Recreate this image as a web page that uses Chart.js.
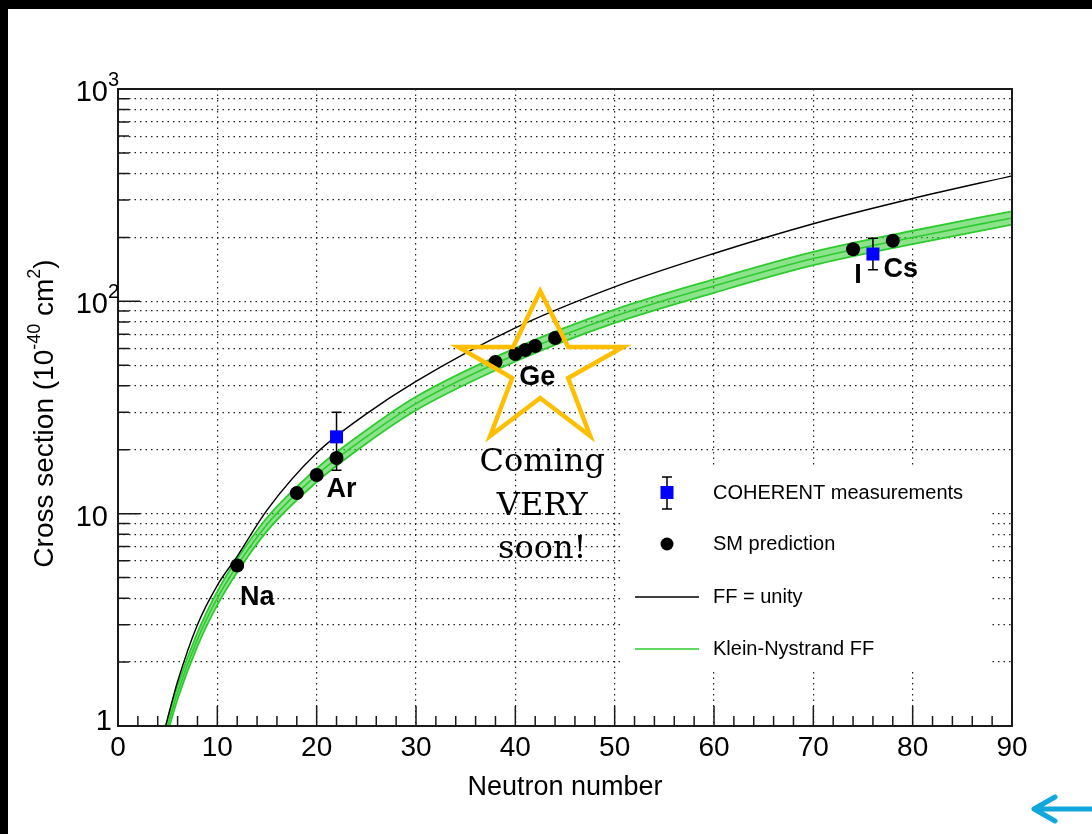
<!DOCTYPE html>
<html>
<head>
<meta charset="utf-8">
<title>Cross section vs neutron number</title>
<script src="https://cdn.jsdelivr.net/npm/chart.js@4.4.1/dist/chart.umd.min.js"></script>
<style>
  html, body { margin: 0; padding: 0; background: #000; }
  #wrap { position: absolute; left: 8px; top: 9px; width: 1084px; height: 825px; background: #fff; }
</style>
</head>
<body>
<div id="wrap"><canvas id="myChart" width="1084" height="825"></canvas></div>
<script>
// curves
const curveN = [4.5, 5, 6, 8, 10, 12, 15, 20, 25, 30, 40, 50, 60, 70, 80, 90];
const ffUnity = [0.88, 1.09, 1.62, 3.0, 4.6, 6.3, 10.4, 19.3, 29.5, 42, 75, 117, 168, 232, 305, 390];
const kleinNystrand = [0.82, 1.0, 1.44, 2.56, 4.0, 5.7, 8.9, 15.2, 23.0, 33, 56, 85, 118, 159, 200, 247];
const knUpper = [0.88, 1.075, 1.55, 2.75, 4.3, 6.13, 9.57, 16.3, 24.7, 35.5, 60.2, 91.4, 126.9, 170.9, 215, 265.5];
const knLower = [0.76, 0.93, 1.34, 2.38, 3.72, 5.3, 8.28, 14.1, 21.4, 30.7, 52.1, 79.1, 109.7, 147.9, 186, 229.7];

// SM prediction points
const smN = [12, 18, 20, 22, 38, 40, 41, 42, 44, 74, 78];
const smXsec = [5.7, 12.5, 15.2, 18.3, 51.8, 56.5, 59.0, 61.6, 67.2, 176, 193];

// COHERENT measurements
const cohN = [22, 76];
const cohXsec = [23, 167];
const cohErrLow = [16, 141];
const cohErrHigh = [30, 198];

// target nuclei labels
const targetNames = ['Na', 'Ar', 'Ge', 'I', 'Cs'];
const targetN = [12, 22, 41, 74, 78];
const targetXsec = [5.7, 18.3, 59.0, 176, 193];

const yGridValues = [1, 2, 3, 4, 5, 6, 7, 8, 9, 10, 20, 30, 40, 50, 60, 70, 80, 90,
  100, 200, 300, 400, 500, 600, 700, 800, 900, 1000];
const yDecades = [1, 10, 100, 1000];
const yDecadeBase = ['1', '10', '10', '10'];
const yDecadeExp = ['', '', '2', '3'];

const SANS = '"Liberation Sans", Arial, sans-serif';
const GREEN = '#2ecc2e';

function pts(xs, ys) {
  return xs.map(function (x, i) { return { x: x, y: ys[i] }; });
}

// pixel offsets of the name labels from their point
const labelOffsets = [[20, 32], [5, 32], [12, 28], [5, 26], [8, 29]];
// star outline, pixel offsets around its centre
const starShape = [[0, -74], [28, -18], [83, -18], [28, 13], [50, 71], [0, 33],
  [-50, 71], [-28, 13], [-82, -18], [-27, -18]];

const rootStyle = {
  id: 'rootStyle',
  beforeDatasetDraw(chart, args) {
    if (args.index !== 1) return;
    const ctx = chart.ctx, xs = chart.scales.x, ys = chart.scales.y;
    ctx.save();
    ctx.strokeStyle = '#000';
    ctx.lineWidth = 1.5;
    for (let i = 0; i < cohN.length; i++) {
      const px = xs.getPixelForValue(cohN[i]);
      const y1 = ys.getPixelForValue(cohErrLow[i]);
      const y2 = ys.getPixelForValue(cohErrHigh[i]);
      ctx.beginPath();
      ctx.moveTo(px, y1); ctx.lineTo(px, y2);
      ctx.moveTo(px - 5, y1); ctx.lineTo(px + 5, y1);
      ctx.moveTo(px - 5, y2); ctx.lineTo(px + 5, y2);
      ctx.stroke();
    }
    ctx.restore();
  },
  afterDatasetsDraw(chart) {
    const ctx = chart.ctx, ca = chart.chartArea;
    const xs = chart.scales.x, ys = chart.scales.y;
    ctx.save();

    // frame
    ctx.strokeStyle = '#1a1a1a';
    ctx.lineWidth = 2;
    ctx.strokeRect(ca.left, ca.top, ca.right - ca.left, ca.bottom - ca.top);

    // inward tick marks
    ctx.lineWidth = 1.5;
    ctx.beginPath();
    for (let n = 0; n <= 90; n += 2) {
      const px = xs.getPixelForValue(n);
      const len = n % 10 === 0 ? 20 : 10;
      ctx.moveTo(px, ca.bottom); ctx.lineTo(px, ca.bottom - len);
    }
    yGridValues.forEach(function (v) {
      const py = ys.getPixelForValue(v);
      const len = yDecades.indexOf(v) >= 0 ? 22 : 11;
      ctx.moveTo(ca.left, py); ctx.lineTo(ca.left + len, py);
    });
    ctx.stroke();

    // y labels with superscripts
    ctx.fillStyle = '#000';
    ctx.textBaseline = 'middle';
    yDecades.forEach(function (v, i) {
      const py = ys.getPixelForValue(v);
      ctx.font = '29px ' + SANS;
      ctx.textAlign = 'right';
      if (yDecadeBase[i] === '1') {
        ctx.fillText('1', ca.left - 6, py - 4);
        return;
      }
      ctx.fillText(yDecadeBase[i], ca.left - 10, py + 4);
      if (yDecadeExp[i]) {
        ctx.font = '20px ' + SANS;
        ctx.textAlign = 'left';
        ctx.fillText(yDecadeExp[i], ca.left - 10, py - 9);
      }
    });

    // y title
    const parts = [['Cross section (10', 28, 0], ['-40', 18, -10], [' cm', 28, 0], ['2', 18, -10], [')', 28, 0]];
    let total = 0;
    parts.forEach(function (p) { ctx.font = p[1] + 'px ' + SANS; total += ctx.measureText(p[0]).width; });
    ctx.translate(37, (ca.top + ca.bottom) / 2 + 6);
    ctx.rotate(-Math.PI / 2);
    ctx.textAlign = 'left';
    let cx = -total / 2;
    parts.forEach(function (p) {
      ctx.font = p[1] + 'px ' + SANS;
      ctx.fillText(p[0], cx, p[2]);
      cx += ctx.measureText(p[0]).width;
    });
    ctx.setTransform(1, 0, 0, 1, 0, 0);

    // star around the Ge points
    const sx = xs.getPixelForValue(42.5), sy = ys.getPixelForValue(50.1);
    ctx.strokeStyle = '#FFBF00';
    ctx.lineWidth = 4.5;
    ctx.lineJoin = 'miter';
    ctx.beginPath();
    starShape.forEach(function (o, i) {
      if (i === 0) ctx.moveTo(sx + o[0], sy + o[1]); else ctx.lineTo(sx + o[0], sy + o[1]);
    });
    ctx.closePath();
    ctx.stroke();

    ctx.fillStyle = '#000';
    ctx.textAlign = 'center';
    ctx.font = '32px "DejaVu Serif", serif';
    ctx.fillText('Coming', sx + 2, sy + 98);
    ctx.fillText('VERY', sx + 2, sy + 142);
    ctx.fillText('soon!', sx + 2, sy + 185);

    // nucleus names
    ctx.font = 'bold 27px ' + SANS;
    targetNames.forEach(function (name, i) {
      const px = xs.getPixelForValue(targetN[i]) + labelOffsets[i][0];
      const py = ys.getPixelForValue(targetXsec[i]) + labelOffsets[i][1];
      ctx.fillText(name, px, py);
    });

    // legend
    ctx.fillStyle = '#fff';
    ctx.fillRect(616, 459, 368, 204);
    ctx.strokeStyle = '#000';
    ctx.lineWidth = 1.5;
    ctx.beginPath();
    ctx.moveTo(659, 468); ctx.lineTo(659, 500);
    ctx.moveTo(654, 468); ctx.lineTo(664, 468);
    ctx.moveTo(654, 500); ctx.lineTo(664, 500);
    ctx.stroke();
    ctx.fillStyle = '#0000ff';
    ctx.fillRect(652.5, 477, 13, 13);
    ctx.fillStyle = '#000';
    ctx.beginPath();
    ctx.arc(659, 535, 6.5, 0, Math.PI * 2);
    ctx.fill();
    ctx.lineWidth = 1.4;
    ctx.beginPath(); ctx.moveTo(627, 588); ctx.lineTo(691, 588); ctx.stroke();
    ctx.strokeStyle = GREEN;
    ctx.beginPath(); ctx.moveTo(627, 640); ctx.lineTo(691, 640); ctx.stroke();
    ctx.font = '20px ' + SANS;
    ctx.textAlign = 'left';
    ctx.fillText('COHERENT measurements', 705, 484);
    ctx.fillText('SM prediction', 705, 535);
    ctx.fillText('FF = unity', 705, 588);
    ctx.fillText('Klein-Nystrand FF', 705, 640);

    // blue arrow, bottom right
    ctx.strokeStyle = '#12A7DC';
    ctx.lineWidth = 5;
    ctx.lineCap = 'round';
    ctx.lineJoin = 'round';
    ctx.beginPath();
    ctx.moveTo(1090, 800); ctx.lineTo(1026, 800);
    ctx.moveTo(1047, 788); ctx.lineTo(1026, 800); ctx.lineTo(1047, 812);
    ctx.stroke();

    ctx.restore();
  }
};

const lineDefaults = { showLine: true, pointRadius: 0, cubicInterpolationMode: 'monotone', fill: false };

new Chart(document.getElementById('myChart'), {
  type: 'scatter',
  data: {
    datasets: [
      { label: 'SM prediction', data: pts(smN, smXsec), pointRadius: 7, pointBackgroundColor: '#000',
        pointBorderWidth: 0, pointStyle: 'circle' },
      { label: 'COHERENT measurements', data: pts(cohN, cohXsec), pointRadius: 9.2, pointStyle: 'rect',
        pointBackgroundColor: '#0000ff', pointBorderWidth: 0 },
      Object.assign({ label: 'FF = unity', data: pts(curveN, ffUnity), borderColor: '#000', borderWidth: 1.4 }, lineDefaults),
      Object.assign({ label: 'Klein-Nystrand FF', data: pts(curveN, kleinNystrand), borderColor: GREEN, borderWidth: 1.6 }, lineDefaults),
      Object.assign({}, lineDefaults, { label: 'KN upper', data: pts(curveN, knUpper), borderColor: GREEN, borderWidth: 1.8,
        fill: '+1', backgroundColor: 'rgba(46,204,46,0.55)' }),
      Object.assign({ label: 'KN lower', data: pts(curveN, knLower), borderColor: GREEN, borderWidth: 1.8 }, lineDefaults)
    ]
  },
  options: {
    responsive: false,
    animation: false,
    layout: { padding: { top: 80, right: 80, left: 0, bottom: 0 } },
    plugins: { legend: { display: false }, tooltip: { enabled: false } },
    scales: {
      x: {
        type: 'linear', min: 0, max: 90,
        ticks: { stepSize: 10, autoSkip: false, maxRotation: 0, padding: 5, color: '#000',
          font: { family: SANS, size: 28 } },
        grid: { color: '#222', lineWidth: 1.2, drawTicks: false },
        border: { display: false, dash: [1.5, 4] },
        title: { display: true, text: 'Neutron number', color: '#000', font: { family: SANS, size: 27 },
          padding: { top: 0, bottom: 30 } },
        afterFit: function (scale) { scale.height = 108; }
      },
      y: {
        type: 'logarithmic', min: 1, max: 1000,
        ticks: { display: false },
        afterBuildTicks: function (scale) { scale.ticks = yGridValues.map(function (v) { return { value: v }; }); },
        grid: { color: '#222', lineWidth: 1.2, drawTicks: false },
        border: { display: false, dash: [1.5, 4] },
        afterFit: function (scale) { scale.width = 110; }
      }
    }
  },
  plugins: [rootStyle]
});
</script>
</body>
</html>
